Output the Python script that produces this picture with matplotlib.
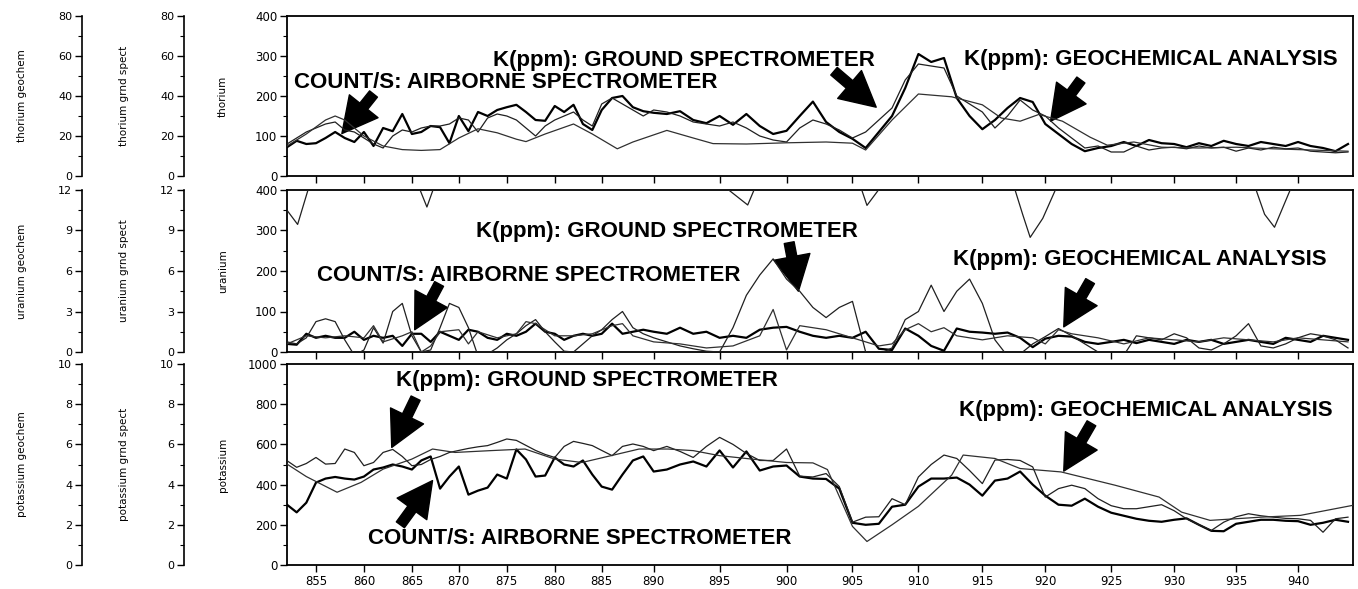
import numpy as np
import matplotlib
matplotlib.use("Agg")
import matplotlib.pyplot as plt
from matplotlib.ticker import AutoMinorLocator

# sampling stations along the profile
stations = np.arange(852, 945)

# ---- thorium ----
thorium_air = [72, 88, 80, 82, 95, 110, 95, 85, 110, 75,
               120, 112, 155, 105, 110, 125, 122, 82, 150, 112,
               160, 150, 165, 172, 178, 160, 140, 138, 175, 160,
               178, 130, 115, 165, 195, 200, 172, 162, 158, 155,
               162, 140, 132, 150, 128, 155, 125, 105, 113, 150,
               186, 135, 110, 93, 70, 110, 150, 220, 305, 285,
               295, 195, 150, 117, 140, 170, 195, 185, 130, 105,
               80, 62, 70, 75, 85, 75, 90, 82, 80, 72,
               82, 75, 88, 80, 75, 85, 80, 75, 85, 75,
               70, 62, 80]
thorium_grnd = [16, 19, 22, 24, 26, 27, 23, 22, 19, 16,
                14, 20, 23, 22, 24, 25, 25, 26, 29, 28,
                22, 29, 31, 30, 28, 24, 20, 25, 28, 30,
                32, 28, 25, 36, 39, 36, 33, 30, 33, 32,
                30, 27, 26, 25, 27, 24, 20, 18, 17, 24,
                28, 26, 23, 19, 22, 28, 34, 48, 56, 55,
                54, 40, 36, 32, 24, 30, 38, 33, 30, 24,
                19, 14, 15, 12, 12, 15, 13, 14, 14.4, 13.6,
                15, 14, 14.4, 12.4, 14, 13, 14.4, 13.6, 14, 12.4,
                12, 11.6, 12]
thorium_geo_x = [852, 854, 856, 857, 858, 860, 862, 864, 866, 868,
                 870, 872, 874, 876, 877, 879, 882, 884, 886.5, 888,
                 891, 893, 894.5, 897, 900, 903, 905, 906, 908, 910,
                 912.6, 915, 916.5, 918, 919.5, 921.3, 923.4, 924.7, 926.8, 929,
                 932, 935, 938, 941, 944]
thorium_geo = [15, 21, 28, 30, 28, 20, 15, 13.2, 12.8, 13.2,
               19, 23.6, 21.6, 18.4, 17.2, 21, 26, 21, 13.6, 17,
               22.8, 19, 16.2, 16, 16.6, 17, 16.4, 13, 28, 41,
               39.6, 35.6, 29, 27.4, 30.8, 27.4, 19.4, 15.4, 17, 14.4,
               14, 14.4, 13.6, 13, 12.4]

# ---- uranium ----
uranium_air = [20, 18, 45, 35, 40, 35, 35, 50, 30, 40,
               35, 40, 15, 45, 45, 25, 50, 40, 30, 55,
               50, 35, 30, 45, 40, 50, 70, 50, 45, 30,
               40, 45, 40, 45, 70, 45, 50, 55, 50, 45,
               60, 45, 50, 35, 40, 35, 55, 60, 62, 50,
               40, 35, 40, 35, 50, 8, 5, 58, 40, 15,
               3, 58, 50, 48, 45, 48, 35, 12, 33, 40,
               38, 25, 20, 25, 30, 22, 30, 25, 20, 30,
               25, 30, 20, 25, 30, 25, 20, 35, 30, 25,
               40, 35, 30]
uranium_grnd = [0.75, 0.6, 1.05, 2.25, 2.46, 2.25, 0.9, -0.24, 0.15, 1.8,
                0.66, 3, 3.6, 1.2, 0, 0.15, 1.8, 3.6, 3.3, 1.8,
                -0.3, -0.15, 0.3, 0.9, 1.35, 1.95, 2.4, 1.5, 0.75, 0.06,
                0, 0.6, 1.2, 1.65, 2.4, 3, 1.8, 1.35, 1.05, 0.75,
                0.45, 0.24, 0.06, 0, 1.8, 4.2, 5.7, 6.9, 5.4, 4.5,
                3.3, 2.55, 3.3, 3.75, 0, -0.15, 0.3, 2.4, 3, 4.95,
                3, 4.5, 5.4, 3.6, 0.9, -0.3, -0.15, 0.6, 1.14, 1.74,
                1.2, 0.6, 0, -0.3, -0.24, 1.2, 1.05, 0.9, 1.35, 1.05,
                0.3, 0.15, 0.6, 1.2, 2.1, 0.45, 0.3, 0.6, 1.05, 1.35,
                1.2, 0.9, 0.3]
# stretches where the ground reading runs off the top of the plot
uranium_grnd_high_x = [852, 853.1, 854.3, 860, 865.7, 866.6, 867.4, 880,
                       895.3, 897.1, 897.7, 900, 905.6, 906.1, 907.2, 912,
                       917.5, 918.2, 918.8, 919.8, 920.9, 930,
                       936.5, 937.3, 938.1, 939.5]
uranium_grnd_high = [10.5, 9.45, 12.3, np.nan, 12.3, 10.74, 12.3, np.nan,
                     12.3, 10.89, 12.3, np.nan, 12.3, 10.86, 12.3, np.nan,
                     12.3, 10.2, 8.49, 9.9, 12.3, np.nan,
                     12.3, 10.2, 9.24, 12.3]
uranium_geo_x = [852, 854, 856, 858, 860, 861, 862, 864, 865, 866,
                 867, 868, 870, 871, 872, 874, 876, 877, 878, 880,
                 882, 884, 886, 887, 888, 890, 892, 894, 896, 898,
                 899, 900, 901, 903, 905, 907, 908, 909, 910, 911,
                 912, 913, 915, 917, 919, 920, 921, 922, 924, 926,
                 928, 930, 932, 934, 936, 938, 940, 942, 944]
uranium_geo = [0.6, 1.2, 1.05, 1.2, 1.05, 1.95, 0.75, 1.2, 1.5, 0,
               0.45, 1.5, 1.65, 0.6, 1.5, 1.05, 1.35, 2.25, 2.1, 1.2,
               1.2, 1.35, 1.95, 2.1, 1.2, 0.75, 0.6, 0.3, 0.45, 1.2,
               3.15, 0.15, 1.95, 1.65, 1.05, 0.45, 0.6, 1.65, 2.1, 1.5,
               1.8, 1.2, 0.9, 1.2, 1.05, 0.6, 1.65, 1.35, 1.05, 0.6,
               1.05, 0.9, 0.75, 1.05, 0.9, 0.75, 1.05, 0.9, 0.75]

# ---- potassium ----
potassium_air = [300, 262, 310, 410, 430, 438, 430, 425, 440, 475,
                 485, 500, 490, 475, 520, 540, 380, 440, 490, 350,
                 370, 385, 450, 430, 575, 525, 440, 445, 535, 500,
                 490, 520, 450, 390, 375, 450, 520, 540, 465, 475,
                 500, 515, 490, 570, 485, 565, 470, 490, 495, 440,
                 430, 428, 380, 210, 200, 205, 290, 300, 390, 430,
                 430, 435, 400, 345, 420, 430, 465, 400, 345, 300,
                 295, 330, 290, 260, 245, 230, 220, 215, 225, 232,
                 200, 170, 168, 205, 215, 225, 225, 220, 218, 200,
                 210, 225, 215]
potassium_grnd = [5.19, 4.86, 5.05, 5.35, 5.02, 5.05, 5.77, 5.6, 4.94, 5.1,
                  5.6, 5.75, 5.4, 4.94, 5.0, 5.25, 5.4, 5.6, 5.7, 5.8,
                  5.88, 5.94, 6.1, 6.27, 6.2, 5.95, 5.7, 5.5, 5.35, 5.9,
                  6.15, 6.05, 5.94, 5.7, 5.44, 5.9, 6.02, 5.9, 5.69, 5.9,
                  5.65, 5.35, 5.9, 6.35, 6.0, 5.55, 5.2, 5.2, 5.77, 4.42,
                  4.38, 4.55, 3.9, 2.13, 2.38, 2.4, 3.3, 3.0, 4.38, 5.0,
                  5.47, 5.3, 4.7, 4.05, 5.22, 5.25, 5.2, 4.88, 3.38, 3.8,
                  3.97, 3.8, 3.3, 2.95, 2.8, 2.8, 2.9, 3.0, 2.7, 2.3,
                  2.0, 1.72, 2.13, 2.4, 2.55, 2.45, 2.38, 2.32, 2.3, 2.22,
                  1.63, 2.3, 2.38]
potassium_geo_x = [852, 854, 857.2, 859.7, 862, 865, 867.2, 869.6, 873.3, 876.9,
                   880, 882.9, 885.9, 888.6, 891.1, 893, 895, 897.4, 900, 902,
                   903.1, 905, 906.1, 908, 910, 912.6, 913.5, 916, 918, 921.2,
                   925.3, 928.8, 930.6, 932.9, 937, 940.2, 944.4]
potassium_geo = [5.02, 4.4, 3.62, 4.11, 4.77, 5.27, 5.77, 5.6, 5.69, 5.77,
                 5.27, 5.1, 5.44, 5.77, 5.77, 5.69, 5.44, 5.27, 5.1, 5.08,
                 4.75, 1.92, 1.17, 2.0, 2.92, 4.47, 5.47, 5.3, 4.8, 4.63,
                 3.97, 3.38, 2.63, 2.22, 2.38, 2.47, 2.97]

# the station axis of the original is not evenly spaced
axis_knots_val = [820, 852, 855, 860, 865, 870, 875, 880, 885, 890, 895,
                  900, 905, 910, 915, 920, 925, 930, 935, 940, 944.4, 980]
axis_knots_pos = [-20, 287, 316, 364, 412, 459, 507, 555, 602, 654, 720,
                  787, 853, 919, 983, 1046, 1112, 1175, 1237, 1299, 1354, 1795]


def fwd(v):
    return np.interp(v, axis_knots_val, axis_knots_pos)


def inv(p):
    return np.interp(p, axis_knots_pos, axis_knots_val)


W, H = 1358, 589
fig = plt.figure(figsize=(W / 100, H / 100), dpi=100)

# (name, main ylim, main step, geochem/grnd ylim, step, top px, bottom px)
rows = [
    ("thorium", 400, 100, 80, 20, 16, 176),
    ("uranium", 400, 100, 12, 3, 190, 352),
    ("potassium", 1000, 200, 10, 2, 364, 565),
]

air = [thorium_air, uranium_air, potassium_air]
grnd = [thorium_grnd, uranium_grnd, potassium_grnd]
geo = [(thorium_geo_x, thorium_geo), (uranium_geo_x, uranium_geo),
       (potassium_geo_x, potassium_geo)]

label_font = dict(family="Liberation Sans", weight="bold", size=16)
arrow_kw = dict(arrowstyle="simple,head_length=1.05,head_width=1.1,tail_width=0.3",
                color="black", mutation_scale=24, shrinkA=0, shrinkB=0)

# (text, text x, text y, tail, tip) in data coords of each panel
notes = [
    [("COUNT/S: AIRBORNE SPECTROMETER", 852.7, 235, (861.0, 205), (857.7, 106)),
     ("K(ppm): GROUND SPECTROMETER", 873.6, 288, (903.6, 262), (906.8, 172)),
     ("K(ppm): GEOCHEMICAL ANALYSIS", 913.6, 290, (922.7, 240), (920.4, 137))],
    [("K(ppm): GROUND SPECTROMETER", 871.8, 297, (900.2, 270), (900.9, 150)),
     ("COUNT/S: AIRBORNE SPECTROMETER", 855.1, 190, (867.9, 168), (865.3, 55)),
     ("K(ppm): GEOCHEMICAL ANALYSIS", 912.7, 229, (923.4, 175), (921.4, 62))],
    [("K(ppm): GROUND SPECTROMETER", 863.3, 917, (865.4, 830), (862.9, 585)),
     ("COUNT/S: AIRBORNE SPECTROMETER", 860.4, 133, (863.8, 200), (867.2, 420)),
     ("K(ppm): GEOCHEMICAL ANALYSIS", 913.2, 767, (923.5, 705), (921.4, 467))],
]

for i, (name, ymax, ystep, smax, sstep, top, bot) in enumerate(rows):
    b = 1 - bot / H
    h = (bot - top) / H

    # two side scales: geochem and ground spectrometer
    for sx, tag in [(82, "geochem"), (184, "grnd spect")]:
        sa = fig.add_axes([sx / W, b, 0.0001, h])
        for s in ["top", "right", "bottom"]:
            sa.spines[s].set_visible(False)
        sa.spines["left"].set_linewidth(1.2)
        sa.set_xticks([])
        sa.set_ylim(0, smax)
        sa.set_yticks(np.arange(0, smax + 0.01, sstep))
        sa.yaxis.set_minor_locator(AutoMinorLocator(2))
        sa.tick_params(axis="y", direction="out", length=5, width=1, labelsize=8, pad=2)
        sa.tick_params(axis="y", which="minor", length=3, width=0.8)
        fig.text((sx - 60) / W, 1 - (top + bot) / 2 / H, "%s %s" % (name, tag),
                 rotation=90, ha="center", va="center", fontsize=7.5)

    fig.text(223 / W, 1 - (top + bot) / 2 / H, name, rotation=90,
             ha="center", va="center", fontsize=7.5)

    ax = fig.add_axes([287 / W, b, (1353 - 287) / W, h])
    ax.set_xscale("function", functions=(fwd, inv))
    ax.set_xlim(852, 944.4)
    ax.set_ylim(0, ymax)
    ax.set_yticks(np.arange(0, ymax + 1, ystep))
    ax.yaxis.set_minor_locator(AutoMinorLocator(2))
    ax.set_xticks(np.arange(855, 941, 5))
    ax.tick_params(axis="both", direction="out", length=5, width=1, labelsize=8.5, pad=2)
    ax.tick_params(axis="y", which="minor", length=3, width=0.8)
    ax.tick_params(axis="x", which="minor", length=0)
    if i < 2:
        ax.set_xticklabels([])
    for s in ax.spines.values():
        s.set_linewidth(1.3)

    ax.plot(stations, air[i], color="black", lw=1.6)

    tg = ax.twinx()
    tg.set_ylim(0, smax)
    tg.plot(stations, grnd[i], color="#202020", lw=0.9)
    if name == "uranium":
        tg.plot(uranium_grnd_high_x, uranium_grnd_high, color="#202020", lw=0.9)
    tg.axis("off")

    te = ax.twinx()
    te.set_ylim(0, smax)
    te.plot(geo[i][0], geo[i][1], color="#303030", lw=0.9)
    te.axis("off")

    for text, tx, ty, tail, tip in notes[i]:
        ax.text(tx, ty, text, ha="left", va="center", zorder=5, **label_font)
        ax.annotate("", xy=tip, xytext=tail, arrowprops=arrow_kw,
                    annotation_clip=False, zorder=5)

fig.savefig("out.png", dpi=100)
